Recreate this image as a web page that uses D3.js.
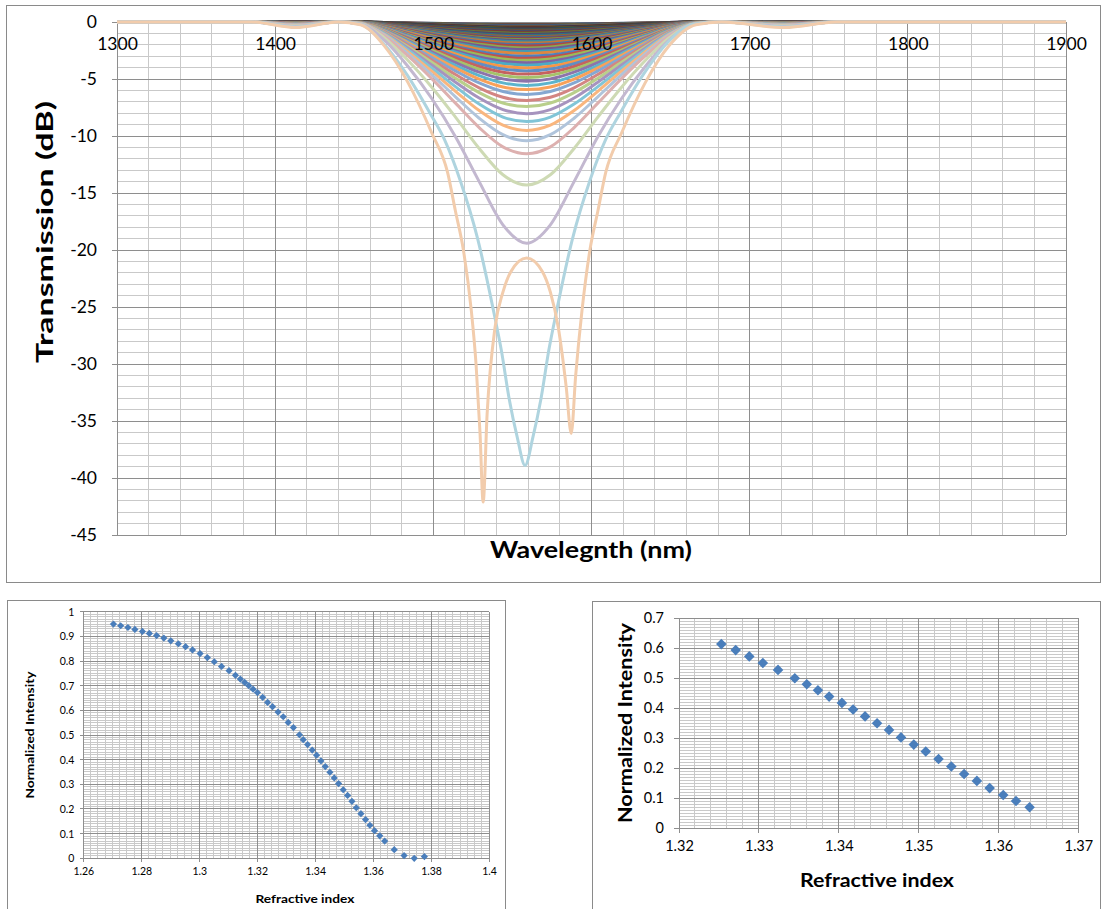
<!DOCTYPE html>
<html><head><meta charset="utf-8">
<script src="https://cdn.jsdelivr.net/npm/d3@7"></script>
<style>
body{margin:0;background:#fff;}
text{font-family:Lato,"Open Sans",sans-serif;}
</style>
</head><body>
<svg id="c" width="1102" height="909"></svg>
<script>
// ---------------- DATA ----------------
// Top chart: transmission spectra (dB) on a shared wavelength grid (nm)
const wavelengths = [1300,1385,1413,1440,1454,1469,1484,1499,1514,1529,1544,1559,1574,1589,1604,1619,1634,1649,1666,1682,1722,1755,1900];
const transmission = [
[0,0,-.01,0,0,-.04,-.08,-.12,-.16,-.19,-.22,-.22,-.22,-.19,-.16,-.12,-.08,-.04,0,0,-.01,0,0],
[0,0,-.01,0,-.01,-.04,-.09,-.14,-.19,-.22,-.25,-.25,-.25,-.22,-.19,-.14,-.09,-.04,-.01,0,-.01,0,0],
[0,0,-.01,0,-.01,-.05,-.10,-.16,-.21,-.25,-.28,-.29,-.28,-.25,-.21,-.16,-.10,-.05,-.01,0,-.01,0,0],
[0,0,-.01,0,-.01,-.05,-.12,-.18,-.24,-.28,-.31,-.32,-.31,-.28,-.24,-.18,-.12,-.05,-.01,0,-.01,0,0],
[0,0,-.01,0,-.01,-.06,-.13,-.20,-.26,-.32,-.35,-.36,-.35,-.32,-.26,-.20,-.13,-.06,-.01,0,-.01,0,0],
[0,0,-.02,0,-.01,-.06,-.14,-.22,-.29,-.35,-.39,-.40,-.39,-.35,-.29,-.22,-.14,-.06,-.01,0,-.02,0,0],
[0,0,-.02,0,-.01,-.07,-.16,-.24,-.32,-.39,-.43,-.44,-.43,-.39,-.32,-.24,-.16,-.07,-.01,0,-.02,0,0],
[0,0,-.02,0,-.01,-.08,-.17,-.27,-.36,-.43,-.48,-.49,-.48,-.43,-.36,-.27,-.17,-.08,-.01,0,-.02,0,0],
[0,0,-.02,0,-.01,-.09,-.19,-.30,-.40,-.48,-.53,-.55,-.53,-.48,-.40,-.30,-.19,-.09,-.01,0,-.02,0,0],
[0,0,-.02,0,-.01,-.09,-.21,-.33,-.44,-.53,-.59,-.60,-.59,-.53,-.44,-.33,-.21,-.09,-.01,0,-.02,0,0],
[0,0,-.03,0,-.01,-.10,-.24,-.37,-.48,-.58,-.64,-.67,-.64,-.58,-.48,-.37,-.24,-.10,-.01,0,-.03,0,0],
[0,0,-.03,0,-.01,-.11,-.26,-.40,-.53,-.64,-.71,-.73,-.71,-.64,-.53,-.40,-.26,-.11,-.01,0,-.03,0,0],
[0,0,-.03,0,-.02,-.13,-.29,-.44,-.59,-.70,-.78,-.81,-.78,-.70,-.59,-.44,-.29,-.13,-.02,0,-.03,0,0],
[0,0,-.03,0,-.02,-.14,-.32,-.49,-.65,-.78,-.86,-.89,-.86,-.78,-.65,-.49,-.32,-.14,-.02,0,-.03,0,0],
[0,0,-.04,0,-.02,-.15,-.35,-.54,-.71,-.86,-.95,-.99,-.95,-.86,-.71,-.54,-.35,-.15,-.02,0,-.04,0,0],
[0,0,-.04,0,-.02,-.17,-.38,-.59,-.79,-.95,-1.05,-1.09,-1.05,-.95,-.79,-.59,-.38,-.17,-.02,0,-.04,0,0],
[0,0,-.05,0,-.02,-.18,-.42,-.65,-.86,-1.03,-1.15,-1.19,-1.15,-1.03,-.86,-.65,-.42,-.18,-.02,0,-.05,0,0],
[0,0,-.05,0,-.03,-.20,-.45,-.70,-.94,-1.13,-1.25,-1.30,-1.25,-1.13,-.94,-.70,-.45,-.20,-.03,0,-.05,0,0],
[0,0,-.05,0,-.03,-.21,-.48,-.75,-1.00,-1.20,-1.34,-1.38,-1.34,-1.20,-1.00,-.75,-.48,-.21,-.03,0,-.05,0,0],
[0,0,-.06,0,-.03,-.22,-.51,-.80,-1.06,-1.28,-1.42,-1.47,-1.42,-1.28,-1.06,-.80,-.51,-.22,-.03,0,-.06,0,0],
[0,0,-.06,0,-.03,-.24,-.54,-.84,-1.11,-1.34,-1.50,-1.55,-1.50,-1.34,-1.11,-.84,-.54,-.24,-.03,0,-.06,0,0],
[0,0,-.06,0,-.03,-.25,-.57,-.88,-1.18,-1.42,-1.58,-1.64,-1.58,-1.42,-1.18,-.88,-.57,-.25,-.03,0,-.06,0,0],
[0,0,-.06,0,-.03,-.26,-.60,-.93,-1.24,-1.50,-1.67,-1.73,-1.67,-1.50,-1.24,-.93,-.60,-.26,-.03,0,-.06,0,0],
[0,0,-.07,0,-.03,-.28,-.64,-1.00,-1.33,-1.60,-1.79,-1.85,-1.79,-1.60,-1.33,-1.00,-.64,-.28,-.03,0,-.07,0,0],
[0,0,-.07,0,-.04,-.30,-.68,-1.07,-1.43,-1.73,-1.93,-1.99,-1.93,-1.73,-1.43,-1.07,-.68,-.30,-.04,0,-.07,0,0],
[0,0,-.08,0,-.04,-.32,-.72,-1.13,-1.51,-1.83,-2.04,-2.11,-2.04,-1.83,-1.51,-1.13,-.72,-.32,-.04,0,-.08,0,0],
[0,0,-.08,0,-.04,-.34,-.77,-1.21,-1.62,-1.96,-2.19,-2.27,-2.19,-1.96,-1.62,-1.21,-.77,-.34,-.04,0,-.08,0,0],
[0,0,-.09,0,-.04,-.36,-.82,-1.28,-1.72,-2.08,-2.33,-2.41,-2.33,-2.08,-1.72,-1.28,-.82,-.36,-.04,0,-.09,0,0],
[0,0,-.09,0,-.05,-.38,-.87,-1.37,-1.84,-2.23,-2.50,-2.59,-2.50,-2.23,-1.84,-1.37,-.87,-.38,-.05,0,-.09,0,0],
[0,0,-.10,0,-.05,-.40,-.92,-1.45,-1.95,-2.38,-2.66,-2.76,-2.66,-2.38,-1.95,-1.45,-.92,-.40,-.05,0,-.10,0,0],
[0,0,-.11,0,-.05,-.44,-1.00,-1.58,-2.12,-2.58,-2.90,-3.00,-2.90,-2.58,-2.12,-1.58,-1.00,-.44,-.05,0,-.11,0,0],
[0,0,-.11,0,-.06,-.46,-1.05,-1.66,-2.24,-2.73,-3.06,-3.18,-3.06,-2.73,-2.24,-1.66,-1.05,-.46,-.06,0,-.11,0,0],
[0,0,-.12,0,-.06,-.48,-1.11,-1.75,-2.36,-2.88,-3.24,-3.36,-3.24,-2.88,-2.36,-1.75,-1.11,-.48,-.06,0,-.12,0,0],
[0,0,-.13,0,-.06,-.51,-1.17,-1.85,-2.51,-3.06,-3.44,-3.58,-3.44,-3.06,-2.51,-1.85,-1.17,-.51,-.06,0,-.13,0,0],
[0,0,-.13,0,-.06,-.53,-1.23,-1.96,-2.65,-3.24,-3.64,-3.79,-3.64,-3.24,-2.65,-1.96,-1.23,-.53,-.06,0,-.13,0,0],
[0,0,-.14,0,-.07,-.56,-1.31,-2.07,-2.81,-3.45,-3.88,-4.03,-3.88,-3.45,-2.81,-2.07,-1.31,-.56,-.07,0,-.14,0,0],
[0,0,-.15,0,-.07,-.60,-1.38,-2.20,-2.98,-3.66,-4.13,-4.29,-4.13,-3.66,-2.98,-2.20,-1.38,-.60,-.07,0,-.15,0,0],
[0,0,-.15,0,-.08,-.63,-1.46,-2.32,-3.16,-3.90,-4.40,-4.57,-4.40,-3.90,-3.16,-2.32,-1.46,-.63,-.08,0,-.15,0,0],
[0,0,-.16,0,-.08,-.66,-1.54,-2.46,-3.36,-4.13,-4.68,-4.87,-4.68,-4.13,-3.36,-2.46,-1.54,-.66,-.08,0,-.16,0,0],
[0,0,-.17,0,-.08,-.70,-1.63,-2.61,-3.56,-4.40,-4.99,-5.19,-4.99,-4.40,-3.56,-2.61,-1.63,-.70,-.08,0,-.17,0,0],
[0,0,-.18,0,-.09,-.74,-1.73,-2.77,-3.80,-4.70,-5.34,-5.56,-5.34,-4.70,-3.80,-2.77,-1.73,-.74,-.09,0,-.18,0,0],
[0,0,-.19,0,-.09,-.78,-1.82,-2.93,-4.03,-5.01,-5.70,-5.93,-5.70,-5.01,-4.03,-2.93,-1.82,-.78,-.09,0,-.19,0,0],
[0,0,-.20,0,-.10,-.82,-1.93,-3.11,-4.29,-5.35,-6.10,-6.36,-6.10,-5.35,-4.29,-3.11,-1.93,-.82,-.10,0,-.20,0,0],
[0,0,-.21,0,-.10,-.87,-2.05,-3.33,-4.61,-5.77,-6.60,-6.88,-6.60,-5.77,-4.61,-3.33,-2.05,-.87,-.10,0,-.21,0,0],
[0,0,-.22,0,-.11,-.92,-2.18,-3.54,-4.93,-6.19,-7.11,-7.42,-7.11,-6.19,-4.93,-3.54,-2.18,-.92,-.11,0,-.22,0,0],
[0,0,-.24,0,-.12,-.98,-2.31,-3.78,-5.28,-6.67,-7.68,-8.04,-7.68,-6.67,-5.28,-3.78,-2.31,-.98,-.12,0,-.24,0,0],
[0,0,-.25,0,-.12,-1.04,-2.46,-4.04,-5.67,-7.20,-8.34,-8.73,-8.34,-7.20,-5.67,-4.04,-2.46,-1.04,-.12,0,-.25,0,0],
[0,0,-.27,0,-.13,-1.10,-2.62,-4.31,-6.08,-7.77,-9.05,-9.51,-9.05,-7.77,-6.08,-4.31,-2.62,-1.10,-.13,0,-.27,0,0],
[0,0,-.28,0,-.14,-1.16,-2.79,-4.61,-6.56,-8.44,-9.88,-10.41,-9.88,-8.44,-6.56,-4.61,-2.79,-1.16,-.14,0,-.28,0,0],
[0,0,-.30,0,-.15,-1.24,-2.98,-4.97,-7.12,-9.26,-10.95,-11.55,-10.95,-9.26,-7.12,-4.97,-2.98,-1.24,-.15,0,-.30,0,0],
[0,0,-.33,0,-.16,-1.39,-3.38,-5.72,-8.34,-11.09,-13.40,-14.30,-13.40,-11.09,-8.34,-5.72,-3.38,-1.39,-.16,0,-.33,0,0],
[0,0,-.38,0,-.18,-1.59,-3.90,-6.71,-10.06,-14.00,-17.79,-19.40,-17.79,-14.00,-10.06,-6.71,-3.90,-1.59,-.18,0,-.38,0,0]
];
// the two deepest spectra, sampled more finely near the resonance
const criticalWave = [1300,1385,1413,1440,1454,1468,1483,1498,1507,1517,1528,1538,1543,1548,1553,1558,1563,1568,1573,1578,1588,1599,1609,1618,1633,1648,1664,1682,1722,1755,1900];
const criticalDB   = [0,0,-.43,0,-.21,-1.82,-4.55,-8.02,-10.3,-13.9,-19.0,-25.3,-28.8,-33.1,-36.4,-38.9,-36.4,-33.1,-28.8,-25.3,-19.0,-13.9,-10.3,-8.02,-4.55,-1.82,-.21,0,-.43,0,0];
const overWave = [1300,1385,1413,1440,1454,1469,1484,1499,1509,1514,1519,1524,1527,1529.5,1531.5,1534,1539,1544,1549,1559,1569,1574,1579,1584,1587.2,1590,1594,1599,1604,1609,1619,1634,1649,1666,1682,1722,1755,1900];
const overDB   = [0,0,-.49,0,-.24,-2.09,-5.32,-9.74,-13.2,-16.6,-20.0,-25.3,-30,-36,-42.1,-34.4,-26.8,-23.7,-21.9,-20.7,-21.9,-23.7,-26.8,-32,-36.1,-31,-25.3,-20.0,-16.6,-13.2,-9.74,-5.32,-2.09,-.24,0,-.49,0,0];

const topXTicks = [1300,1400,1500,1600,1700,1800,1900];
const topYTicks = [0,-5,-10,-15,-20,-25,-30,-35,-40,-45];

// Bottom-left: normalized intensity vs refractive index (full range)
const refIndexAll = [1.2704,1.2729,1.2754,1.2778,1.2804,1.2828,1.2853,1.2878,1.2902,1.2928,1.2953,1.2977,1.3003,1.3028,1.3052,1.3077,1.3103,1.3125,1.3142,1.3157,1.3171,1.3186,1.3201,1.3219,1.3236,1.3253,1.3272,1.3290,1.3307,1.3325,1.3346,1.3359,1.3374,1.3390,1.3405,1.3420,1.3435,1.3451,1.3466,1.3481,1.3497,1.3512,1.3527,1.3542,1.3558,1.3574,1.3589,1.3605,1.3623,1.3640,1.3673,1.3707,1.3742,1.3777];
const intensityAll = [.950,.943,.936,.928,.920,.912,.903,.893,.882,.870,.858,.845,.830,.814,.797,.778,.761,.742,.727,.713,.700,.686,.672,.653,.632,.615,.593,.574,.551,.530,.501,.481,.461,.439,.418,.395,.372,.349,.326,.303,.278,.255,.231,.205,.181,.157,.134,.112,.091,.070,.035,.011,.000,.007];
const blXTicks = [1.26,1.28,1.30,1.32,1.34,1.36,1.38,1.40];
const blXLabels = ['1.26','1.28','1.3','1.32','1.34','1.36','1.38','1.4'];
const blYTicks = [0,.1,.2,.3,.4,.5,.6,.7,.8,.9,1];
const blYLabels = ['0','0.1','0.2','0.3','0.4','0.5','0.6','0.7','0.8','0.9','1'];

// Bottom-right: linear region
const refIndexSub = [1.3253,1.3271,1.3288,1.3305,1.3324,1.3345,1.3360,1.3374,1.3388,1.3404,1.3418,1.3433,1.3448,1.3463,1.3478,1.3494,1.3509,1.3525,1.3541,1.3557,1.3573,1.3589,1.3606,1.3622,1.3639];
const intensitySub = [.614,.594,.573,.551,.528,.500,.480,.460,.439,.418,.396,.373,.350,.328,.303,.279,.256,.231,.206,.181,.158,.134,.111,.091,.070];
const brXTicks = [1.32,1.33,1.34,1.35,1.36,1.37];
const brXLabels = ['1.32','1.33','1.34','1.35','1.36','1.37'];
const brYTicks = [0,.1,.2,.3,.4,.5,.6,.7];
const brYLabels = ['0','0.1','0.2','0.3','0.4','0.5','0.6','0.7'];

// ---------------- STYLE ----------------
const baseColors = ['#4F81BD','#C0504D','#9BBB59','#8064A2','#4BACC6','#F79646'];
const groupShade = [-0.35,-0.5,-0.35,-0.2,-0.1,0,0.1,0.3,0.52];
function seriesColor(i){
  const b = baseColors[i%6], s = groupShade[Math.min(8,Math.floor(i/6))];
  const c = s<0 ? d3.interpolateRgb(b,'#000')(-s) : d3.interpolateRgb(b,'#fff')(s);
  return s>0.4 ? d3.interpolateRgb(c,'#c8c8c8')(0.18) : c;
}
const MAJOR='#8e8e8e', MINOR='#c9c9c9', FRAME='#8a8a8a';

const svg = d3.select('#c');
svg.append('rect').attr('width',1102).attr('height',909).attr('fill','#fff');

function frame(x,y,w,h){
  svg.append('rect').attr('x',x).attr('y',y).attr('width',w).attr('height',h)
    .attr('fill','none').attr('stroke',FRAME).attr('stroke-width',1);
}
function grid(g,x,y,xMinor,xMajor,yMinor,yMajor){
  const [x0,x1]=x.range(), [y0,y1]=y.range();
  const lines=(vals,color,vert)=>g.append('g').selectAll('line').data(vals).join('line')
    .attr('x1',d=>vert?x(d):x0).attr('x2',d=>vert?x(d):x1)
    .attr('y1',d=>vert?y0:y(d)).attr('y2',d=>vert?y1:y(d))
    .attr('stroke',color).attr('stroke-width',1).attr('shape-rendering','crispEdges');
  lines(yMinor,MINOR,false); lines(xMinor,MINOR,true);
  lines(yMajor,MAJOR,false); lines(xMajor,MAJOR,true);
}
function label(x,y,str,size,weight,anchor,rot,len){
  const t=svg.append('text').attr('x',x).attr('y',y).text(str)
    .attr('font-size',size).attr('font-weight',weight).attr('text-anchor',anchor).attr('fill','#000');
  if(rot) t.attr('transform',`rotate(-90,${x},${y})`);
  if(len) t.attr('textLength',len).attr('lengthAdjust','spacingAndGlyphs');
  return t;
}
function styleAxis(a,size){
  a.select('.domain').remove();
  a.selectAll('text').attr('font-size',size).attr('font-family','Lato,sans-serif').attr('fill','#000');
}

// ================= TOP CHART =================
frame(6.5,5.5,1094,577);
const tx = d3.scaleLinear().domain([1300,1900]).range([117,1066]);
const ty = d3.scaleLinear().domain([-45,0]).range([535,22]);
const gTop = svg.append('g');
grid(gTop,tx,ty,d3.range(1300,1901,20),topXTicks,d3.range(-45,0.5,1),topYTicks);
gTop.append('g').selectAll('line').data(topYTicks).join('line')
  .attr('x1',112).attr('x2',117).attr('y1',d=>ty(d)).attr('y2',d=>ty(d))
  .attr('stroke',MAJOR).attr('shape-rendering','crispEdges');

const series = transmission.map(v=>wavelengths.map((w,i)=>[w,v[i]]));
series.push(criticalWave.map((w,i)=>[w,criticalDB[i]]));
series.push(overWave.map((w,i)=>[w,overDB[i]]));
const line = d3.line().x(d=>tx(d[0])).y(d=>ty(d[1])).curve(d3.curveMonotoneX);
gTop.append('g').selectAll('path').data(series).join('path')
  .attr('d',line).attr('fill','none').attr('stroke',(d,i)=>seriesColor(i))
  .attr('stroke-width',3).attr('stroke-linejoin','round');

const axTX = gTop.append('g').attr('transform',`translate(0,${ty(0)})`)
  .call(d3.axisBottom(tx).tickValues(topXTicks).tickSize(0).tickPadding(16).tickFormat(d3.format('d')));
styleAxis(axTX,17.5);
const axTY = gTop.append('g').attr('transform',`translate(${tx(1300)},0)`)
  .call(d3.axisLeft(ty).tickValues(topYTicks).tickSize(0).tickPadding(20).tickFormat(d=>String(d)));
styleAxis(axTY,17.5);
label(591,558,'Wavelegnth (nm)',23,'bold','middle',false,202);
label(53,232,'Transmission (dB)',23,'bold','middle',true,262);

// ================= BOTTOM LEFT =================
frame(7.5,600.5,498,320);
const lx = d3.scaleLinear().domain([1.26,1.40]).range([83.3,489]);
const ly = d3.scaleLinear().domain([0,1]).range([858.3,611.7]);
const gBL = svg.append('g');
grid(gBL,lx,ly,d3.range(0,57).map(k=>1.26+k*0.0025),blXTicks,d3.range(0,101).map(k=>k*0.01),blYTicks);
gBL.append('g').selectAll('line').data(blYTicks).join('line')
  .attr('x1',80).attr('x2',83.3).attr('y1',d=>ly(d)).attr('y2',d=>ly(d)).attr('stroke',MAJOR).attr('shape-rendering','crispEdges');
gBL.append('g').selectAll('line').data(blXTicks).join('line')
  .attr('x1',d=>lx(d)).attr('x2',d=>lx(d)).attr('y1',858.3).attr('y2',862).attr('stroke',MAJOR).attr('shape-rendering','crispEdges');
const axBX = gBL.append('g').attr('transform',`translate(0,${ly(0)})`)
  .call(d3.axisBottom(lx).tickValues(blXTicks).tickSize(0).tickPadding(9).tickFormat((d,i)=>blXLabels[i]));
styleAxis(axBX,10.5);
const axBY = gBL.append('g').attr('transform',`translate(${lx(1.26)},0)`)
  .call(d3.axisLeft(ly).tickValues(blYTicks).tickSize(0).tickPadding(9).tickFormat((d,i)=>blYLabels[i]));
styleAxis(axBY,10.5);
const diamond = s=>d3.symbol(d3.symbolSquare,s)();
gBL.append('g').selectAll('path').data(refIndexAll).join('path')
  .attr('d',diamond(26)).attr('fill','#4A7EBB')
  .attr('transform',(d,i)=>`translate(${lx(d)},${ly(intensityAll[i])}) rotate(45)`);
label(305,903,'Refractive index',12,'bold','middle',false,99);
label(34,735,'Normalized Intensity',12,'bold','middle',true,127);

// ================= BOTTOM RIGHT =================
frame(592.5,601.5,508,320);
const rx = d3.scaleLinear().domain([1.32,1.37]).range([679,1078.3]);
const ry = d3.scaleLinear().domain([0,0.7]).range([828.3,618.3]);
const gBR = svg.append('g');
grid(gBR,rx,ry,d3.range(0,26).map(k=>1.32+k*0.002),brXTicks,d3.range(0,71).map(k=>k*0.01),brYTicks);
gBR.append('g').selectAll('line').data(brYTicks).join('line')
  .attr('x1',674).attr('x2',679).attr('y1',d=>ry(d)).attr('y2',d=>ry(d)).attr('stroke',MAJOR).attr('shape-rendering','crispEdges');
gBR.append('g').selectAll('line').data(brXTicks).join('line')
  .attr('x1',d=>rx(d)).attr('x2',d=>rx(d)).attr('y1',828.3).attr('y2',833).attr('stroke',MAJOR).attr('shape-rendering','crispEdges');
const axRX = gBR.append('g').attr('transform',`translate(0,${ry(0)})`)
  .call(d3.axisBottom(rx).tickValues(brXTicks).tickSize(0).tickPadding(12).tickFormat((d,i)=>brXLabels[i]));
styleAxis(axRX,14.5);
const axRY = gBR.append('g').attr('transform',`translate(${rx(1.32)},0)`)
  .call(d3.axisLeft(ry).tickValues(brYTicks).tickSize(0).tickPadding(15).tickFormat((d,i)=>brYLabels[i]));
styleAxis(axRY,14.5);
gBR.append('g').selectAll('path').data(refIndexSub).join('path')
  .attr('d',diamond(56)).attr('fill','#4A7EBB')
  .attr('transform',(d,i)=>`translate(${rx(d)},${ry(intensitySub[i])}) rotate(45)`);
label(877,887,'Refractive index',19,'bold','middle',false,154);
label(632,723,'Normalized Intensity',19,'bold','middle',true,200);
</script>
</body></html>
